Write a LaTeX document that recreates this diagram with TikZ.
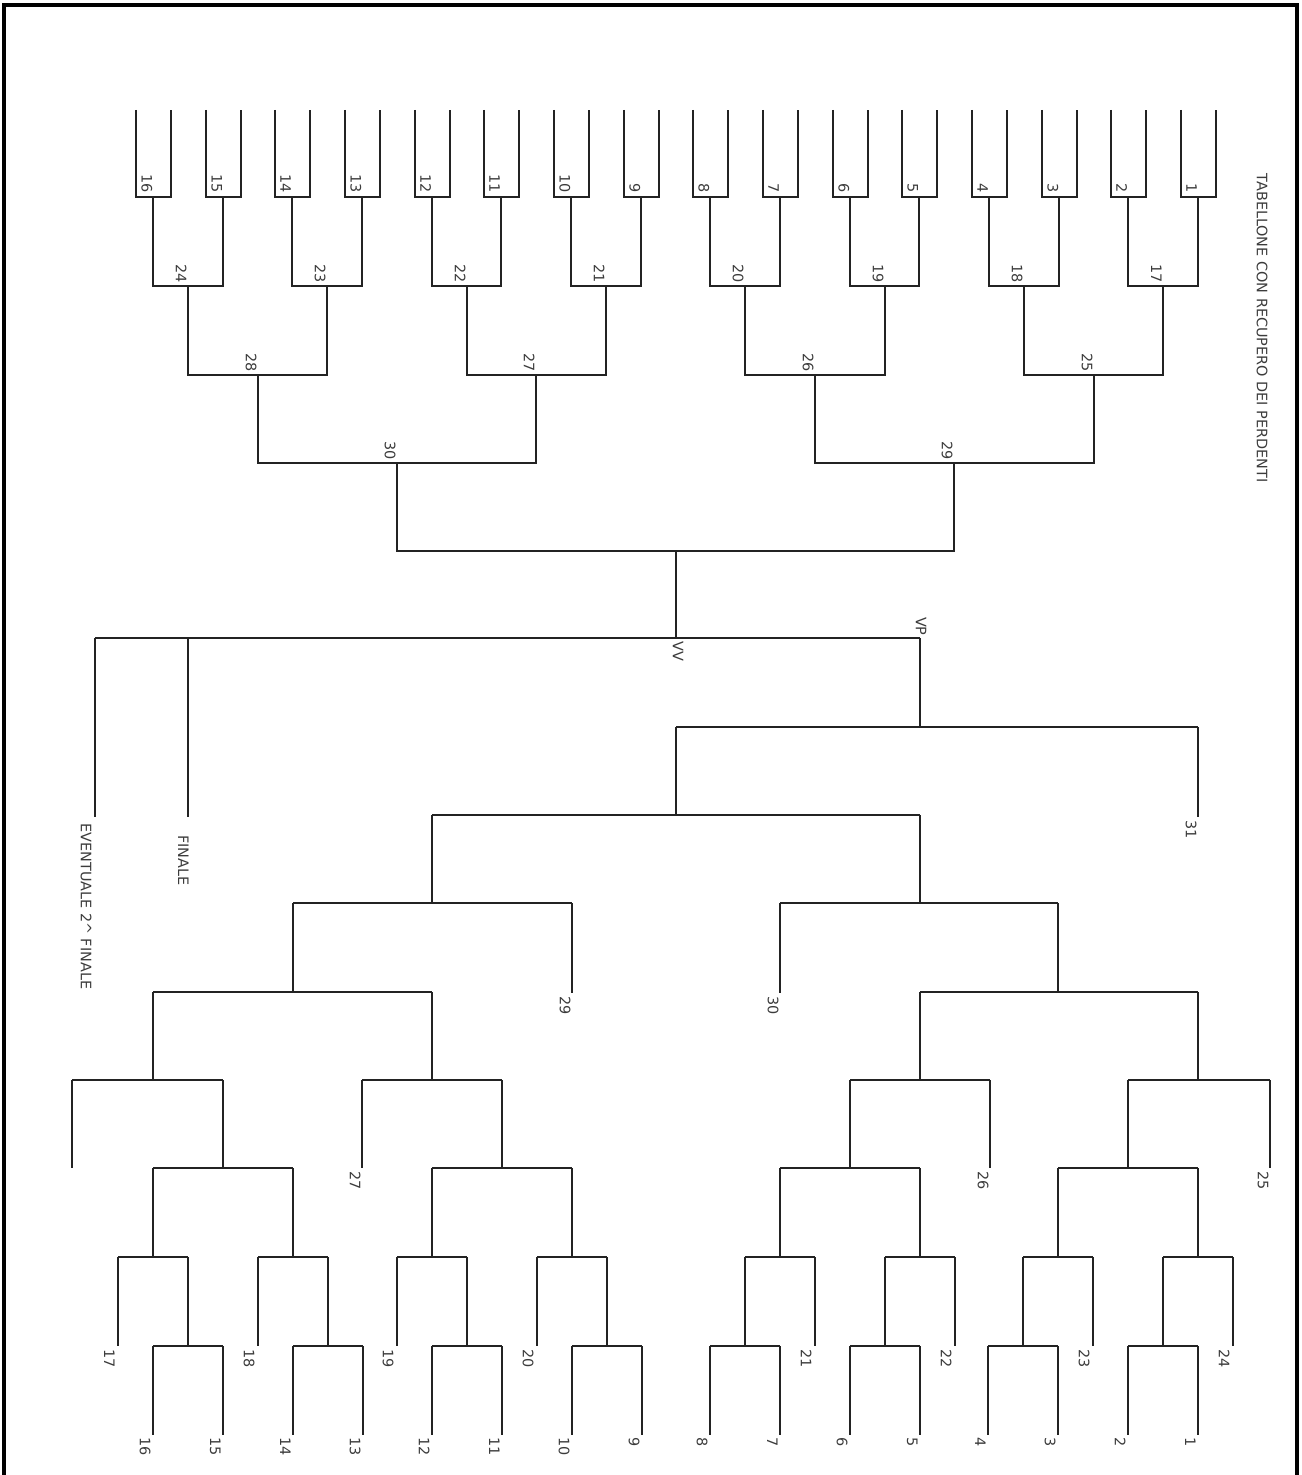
\documentclass[tikz,border=0pt]{standalone}
\usepackage{fontspec}
\setmainfont{DejaVu Sans}
\definecolor{lnk}{RGB}{35,35,35}
\definecolor{txt}{RGB}{60,60,60}
\tikzset{
  br/.style={draw=lnk, line width=0.9pt},
  frm/.style={draw=black, line width=1.7pt},
  lb/.style={rotate=-90, font=\fontsize{7.2}{8.5}\selectfont, text=txt, inner sep=0pt},
  tabellone/.style={x=0.5pt, y=-0.5pt}
}

\begin{document}
\begin{tikzpicture}[tabellone]
  \useasboundingbox (0,0) rectangle (1301,1475);
  % cornice
  \coordinate (fa) at (4,1490);
  \coordinate (fb) at (4,5);
  \coordinate (fc) at (1297,5);
  \coordinate (fd) at (1297,1490);
  \draw[frm] (fa) -- (fb) -- (fc) -- (fd);
  \node[lb] (titolo) at (1262,328) {TABELLONE CON RECUPERO DEI PERDENTI};

  % tabellone principale: primo turno
  \foreach \k in {1,...,16}{
    \pgfmathtruncatemacro{\xa}{round(136+(\k-1)*69.67)}
    \pgfmathtruncatemacro{\num}{17-\k}
    \coordinate (pa\k) at (\xa,110);
    \coordinate (pb\k) at ({\xa+35},110);
    \coordinate (c1-\k) at (\xa,197);
    \coordinate (m1-\k) at ({\xa+17},197);
    \draw[br] (pa\k) |- (m1-\k) -| (pb\k);
    \node[lb, anchor=south east] at ([xshift=2.5pt,yshift=2pt]c1-\k) {\num};
  }
  % turni successivi
  \foreach \r/\n/\y/\off in {2/8/286/25,3/4/375/29,4/2/463/31,5/1/551/0}{
    \pgfmathtruncatemacro{\pr}{\r-1}
    \foreach \j in {1,...,\n}{
      \pgfmathtruncatemacro{\ca}{2*\j-1}
      \pgfmathtruncatemacro{\cb}{2*\j}
      \pgfmathtruncatemacro{\lab}{\off-\j}
      \pgfmathtruncatemacro{\xm}{round(153+((\j-1)*2^(\r-1)+(2^(\r-1)-1)/2)*69.67)}
      \coordinate (m\r-\j) at (\xm,\y);
      \draw[br] (m\pr-\ca) |- (m\r-\j) -| (m\pr-\cb);
      \ifnum\r<5
        \node[lb, anchor=north east] at ([xshift=-0.5pt,yshift=1.5pt]m\r-\j) {\lab};
      \fi
    }
  }

  % finale
  \coordinate (vv) at (676,638);
  \coordinate (vp) at (920,638);
  \coordinate (fin2) at (95,638);
  \coordinate (fin) at (188,638);
  \coordinate (fin2e) at (95,817);
  \coordinate (fine) at (188,817);
  \draw[br] (m5-1) -- (vv);
  \draw[br] (fin2) -- (vp);
  \draw[br] (fin2) -- (fin2e);
  \draw[br] (fin) -- (fine);
  \node[lb, anchor=west] at ([xshift=1pt,yshift=-1.5pt]vv) {VV};
  \node[lb, anchor=east] at ([xshift=0.5pt,yshift=1pt]vp) {VP};
  \node[lb, anchor=north west] at ([xshift=-1.5pt,yshift=-3pt]fin2e) {EVENTUALE 2\textasciicircum{} FINALE};
  \node[lb, anchor=north west] at ([xshift=0.5pt,yshift=-9pt]fine) {FINALE};

  % recupero dei perdenti
  \foreach \f/\pa/\xl/\xr/\y in {
      a/vp/676/1198/727, b/aL/432/920/815,
      c/bL/293/572/903, d/bR/780/1058/903,
      e/cL/153/432/992, f/dR/920/1198/992,
      g/eL/72/223/1080, h/eR/362/502/1080,
      i/fL/850/990/1080, j/fR/1128/1270/1080,
      k/gR/153/293/1168, l/hR/432/572/1168,
      m/iL/780/920/1168, n/jL/1058/1198/1168}{
    \coordinate (\f L) at (\xl,\y);
    \coordinate (\f R) at (\xr,\y);
    \draw[br] (\pa) -- (\pa |- \f L);
    \draw[br] (\f L) -- (\f R);
  }
  \foreach \pa/\ye/\lab in {aR/817/31, cR/993/29, dL/993/30, gL/1168/,
      hL/1168/27, iR/1168/26, jR/1168/25}{
    \coordinate (e\pa) at (\pa |- 0,\ye);
    \draw[br] (\pa) -- (e\pa);
    \node[lb, anchor=north west] at ([xshift=-0.5pt,yshift=-1.5pt]e\pa) {\lab};
  }
  \foreach \pa/\x/\s/\q/\u/\v in {kL/153/1/17/16/15, kR/293/1/18/14/13,
      lL/432/1/19/12/11, lR/572/1/20/10/9, mL/780/-1/21/8/7,
      mR/920/-1/22/6/5, nL/1058/-1/23/4/3, nR/1198/-1/24/2/1}{
    \pgfmathsetmacro{\xf}{\x-35*\s}
    \pgfmathsetmacro{\xs}{\x+35*\s}
    \coordinate (gl\q) at ({\x-35},1257);
    \coordinate (gr\q) at ({\x+35},1257);
    \coordinate (lt\q) at (\xf,1257);
    \coordinate (lf\q) at (\xf,1346);
    \coordinate (st\q) at (\xs,1257);
    \coordinate (sl\q) at ({\xs-35},1346);
    \coordinate (sr\q) at ({\xs+35},1346);
    \coordinate (el\q) at ({\xs-35},1435);
    \coordinate (er\q) at ({\xs+35},1435);
    \draw[br] (\pa) -- (\pa |- gl\q);
    \draw[br] (gl\q) -- (gr\q);
    \draw[br] (lt\q) -- (lf\q);
    \draw[br] (st\q) -- (st\q |- sl\q);
    \draw[br] (sl\q) -- (sr\q);
    \draw[br] (sl\q) -- (el\q);
    \draw[br] (sr\q) -- (er\q);
    \node[lb, anchor=north west] at ([xshift=-1.5pt,yshift=-1.5pt]lf\q) {\q};
    \node[lb, anchor=north west] at ([xshift=-1pt,yshift=-1pt]el\q) {\u};
    \node[lb, anchor=north west] at ([xshift=-1pt,yshift=-1pt]er\q) {\v};
  }
\end{tikzpicture}
\end{document}
